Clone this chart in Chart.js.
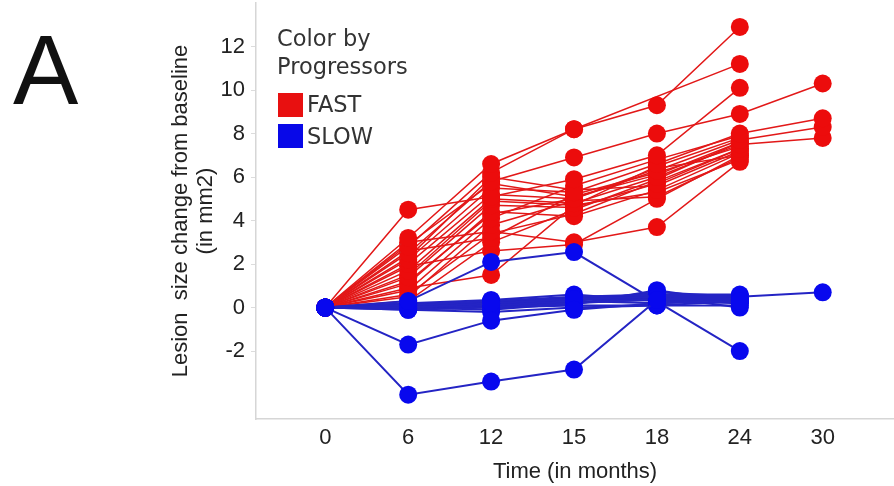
<!DOCTYPE html>
<html>
<head>
<meta charset="utf-8">
<script src="https://cdn.jsdelivr.net/npm/chart.js@4"></script>
<style>
html,body{margin:0;padding:0;background:#fff;}
#wrap{position:relative;width:894px;height:486px;overflow:hidden;}
#c{position:absolute;left:0;top:0;}
.t{position:absolute;font-family:"DejaVu Sans",Verdana,sans-serif;color:#333;white-space:nowrap;line-height:1;}
.sq{position:absolute;width:25px;height:24px;}
</style>
</head>
<body>
<div id="wrap">
<canvas id="c" width="894" height="486"></canvas>
<div class="t" style="left:13px;top:21px;font-size:98px;color:#111;font-family:'Liberation Sans',Arial,sans-serif;">A</div>
<div class="t" style="left:277px;top:27px;font-size:22.5px;">Color by</div>
<div class="t" style="left:277px;top:55px;font-size:22.5px;">Progressors</div>
<div class="sq" style="left:278px;top:93px;background:#e81010;"></div>
<div class="t" style="left:307px;top:93px;font-size:22.5px;">FAST</div>
<div class="sq" style="left:278px;top:124px;background:#0808e8;"></div>
<div class="t" style="left:307px;top:125px;font-size:22.5px;">SLOW</div>
</div>
<script>
// Categories (time points, months)
const timeLabels = ['0', '6', '12', '15', '18', '24', '30'];
// Y tick labels
const yTicks = [-2, 0, 2, 4, 6, 8, 10, 12];

// FAST progressors: lesion size change per subject at each time point (null = no visit)
const fast = [
  [0, 3.2, 6.6, 8.2, 9.3, 12.9, null],
  [0, 2.8, 6.2, 8.2, null, 11.2, null],
  [0, 2.5, 5.8, 6.9, 8.0, 8.9, 10.3],
  [0, 4.5, 5.1, 5.9, 7.0, 10.1, null],
  [0, 2.2, 5.5, 5.3, 6.6, 8.0, 8.7],
  [0, 2.0, 5.2, 5.0, 6.3, 7.7, 8.3],
  [0, 1.7, 5.0, 4.8, 6.0, 7.5, 7.8],
  [0, 1.4, 4.7, 4.6, 5.7, 7.3, null],
  [0, 1.1, 4.4, 4.2, 5.4, 7.1, null],
  [0, 0.8, 4.1, 5.6, 6.8, 7.9, null],
  [0, 0.5, 3.8, 4.9, 5.1, 6.9, null],
  [0, 3.0, 3.5, 3.0, 3.7, 6.7, null],
  [0, 2.6, 3.2, 5.2, 6.2, 7.4, null],
  [0, 0.3, 3.0, 4.5, 5.9, 7.6, null],
  [0, 1.9, 2.6, 2.9, 5.0, 7.0, null],
  [0, 0.9, 1.5, 4.7, 6.5, 7.8, null],
  [0, 2.3, 6.0, 5.4, 5.6, 7.2, null],
  [0, 1.2, 4.3, 5.0, 6.4, 7.0, null],
  [0, 2.9, 5.7, 5.1, 6.1, 7.6, null],
  [0, 1.5, 4.9, 4.7, 5.3, 6.8, null],
  [0, 0.6, 3.4, 4.3, 5.8, 7.3, null]
];

// SLOW progressors
const slow = [
  [0, -4.0, -3.4, -2.85, 0.35, null, null],
  [0, -1.7, -0.6, -0.1, 0.2, 0.3, null],
  [0, 0.3, 2.1, 2.55, null, -2.0, null],
  [0, 0.0, 0.2, 0.4, 0.5, 0.5, 0.7],
  [0, 0.1, 0.3, 0.5, 0.6, 0.6, null],
  [0, -0.1, 0.0, 0.2, 0.4, 0.4, null],
  [0, 0.0, 0.1, 0.3, 0.7, 0.5, null],
  [0, 0.2, 0.35, 0.6, 0.3, 0.2, null],
  [0, -0.1, -0.2, 0.0, 0.1, 0.1, null],
  [0, 0.1, 0.0, 0.1, 0.1, 0.3, null],
  [0, 0.0, -0.1, 0.2, 0.5, 0.0, null],
  [0, 0.2, 0.2, 0.3, 0.2, 0.4, null],
  [0, 0.05, 0.15, 0.35, 0.45, 0.45, null],
  [0, -0.05, 0.05, 0.25, 0.35, 0.35, null],
  [0, 0.15, 0.25, 0.45, 0.55, 0.55, null],
  [0, 0.0, 0.3, 0.15, 0.8, 0.25, null]
];

const FONT = '"Liberation Sans", Arial, sans-serif';
const RED_LINE = '#e21818', RED_PT = '#ec0c0c';
const BLUE_LINE = '#2424c4', BLUE_PT = '#0808ee';

function toPoints(arr) {
  return arr.map((v, i) => (v === null ? null : { x: i, y: v })).filter(p => p);
}
function mk(arr, line, pt, w) {
  return {
    data: toPoints(arr),
    borderColor: line,
    backgroundColor: pt,
    pointBackgroundColor: pt,
    pointBorderWidth: 0,
    pointRadius: 9,
    pointHoverRadius: 9,
    borderWidth: w,
    tension: 0,
    fill: false
  };
}
// first dataset is drawn on top in Chart.js, so slow (blue) first
const datasets = [];
slow.forEach(s => datasets.push(mk(s, BLUE_LINE, BLUE_PT, 2)));
fast.forEach(s => datasets.push(mk(s, RED_LINE, RED_PT, 1.5)));

new Chart(document.getElementById('c'), {
  type: 'line',
  data: { datasets },
  options: {
    responsive: false,
    animation: false,
    devicePixelRatio: 1,
    layout: { autoPadding: false, padding: { left: 160, top: 3, right: 0, bottom: 0 } },
    plugins: { legend: { display: false }, tooltip: { enabled: false } },
    scales: {
      x: {
        type: 'linear',
        min: -0.836,
        max: 6.86,
        afterBuildTicks: s => { s.ticks = timeLabels.map((l, i) => ({ value: i })); },
        afterFit: s => { s.height = 67; s.paddingLeft = 0; s.paddingRight = 0; },
        ticks: {
          callback: v => timeLabels[v],
          font: { family: FONT, size: 22 },
          color: '#222',
          padding: 6,
          autoSkip: false,
          maxRotation: 0
        },
        grid: { drawOnChartArea: false, drawTicks: false },
        border: { display: true, color: '#d6d6d6', width: 1.5 },
        title: {
          display: true,
          text: 'Time (in months)',
          font: { family: FONT, size: 22 },
          color: '#222',
          padding: { top: 0, bottom: 1 }
        }
      },
      y: {
        type: 'linear',
        min: -5.12,
        max: 14.0,
        afterBuildTicks: s => { s.ticks = yTicks.map(v => ({ value: v })); },
        afterFit: s => { s.width = 96; s.paddingTop = 0; s.paddingBottom = 0; },
        ticks: {
          font: { family: FONT, size: 22 },
          color: '#222',
          padding: 6
        },
        grid: { drawOnChartArea: false, drawTicks: true, tickLength: 5, color: '#dcdcdc' },
        border: { display: true, color: '#d6d6d6', width: 1.5 },
        title: {
          display: true,
          text: ['Lesion  size change from baseline', '(in mm2)'],
          font: { family: FONT, size: 22, lineHeight: 1.15 },
          color: '#222',
          padding: { top: 8, bottom: 0 }
        }
      }
    }
  }
});
</script>
</body>
</html>
